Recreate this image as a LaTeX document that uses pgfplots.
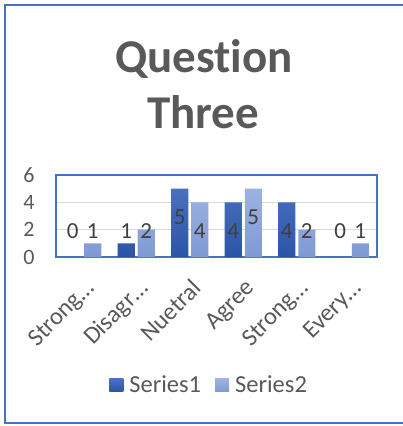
\documentclass[border=0pt]{standalone}
\usepackage{pgfplots}
\pgfplotsset{compat=1.18}
\usepackage{fontspec}
\setmainfont{Carlito}[Ligatures={NoCommon}]
\definecolor{txt}{HTML}{595959}
\definecolor{lbl}{HTML}{404040}
\definecolor{frameblue}{HTML}{4472C4}
\definecolor{sOneTop}{HTML}{4A70BF}
\definecolor{sOneBot}{HTML}{2C54A6}
\definecolor{sTwoTop}{HTML}{9DB2E1}
\definecolor{sTwoBot}{HTML}{7F9AD3}
\begin{document}
\begin{tikzpicture}
\useasboundingbox (0bp,0bp) rectangle (403bp,-426bp);
\draw[frameblue, line width=2bp] (404bp,-4.5bp) -- (4.5bp,-4.5bp) -- (4.5bp,-423bp) -- (404bp,-423bp);
\node[anchor=base, text=txt, font=\fontsize{47bp}{56bp}\selectfont\bfseries] at (204bp,-72bp) {Question};
\node[anchor=base, text=txt, font=\fontsize{47bp}{56bp}\selectfont\bfseries] at (203bp,-128bp) {Three};
\begin{axis}[
  at={(56bp,-257bp)}, anchor=south west,
  width=321bp, height=82bp, scale only axis,
  ybar, bar width=0.318,
  xmin=-0.5, xmax=5.5, ymin=0, ymax=6,
  xtick={0,1,2,3,4,5},
  xticklabels={Strong…,Disagr…,Nuetral,Agree,Strong…,Every…},
  ytick={0,2,4,6},
  major tick length=0pt,
  ymajorgrids,
  grid style={color=black!15, line width=1bp},
  axis line style={frameblue, line width=1.2bp},
  /pgf/number format/assume math mode=true,
  yticklabel style={text=txt, font=\fontsize{22bp}{26bp}\selectfont, xshift=-18bp},
  xticklabel style={text=txt, font=\fontsize{24.5bp}{28bp}\selectfont, xshift=1bp, yshift=-16bp, rotate=45, anchor=north east},
  legend style={at={(0.477,-1.56)}, anchor=center, draw=none, fill=none,
    legend columns=2, font=\fontsize{24.5bp}{28bp}\selectfont, text=txt,
    /tikz/every even column/.append style={column sep=12bp},
    /tikz/every odd column/.append style={column sep=4bp},
    legend cell align=left},
  legend image code/.code={\path[#1, draw=none] (0bp,-7bp) rectangle (14bp,6bp);},
  every node near coord/.append style={anchor=center, text=lbl, font=\fontsize{23bp}{27bp}\selectfont},
]
\addplot[bar shift=-0.187, draw=none, top color=sOneTop, bottom color=sOneBot]
  coordinates {(0,0) (1,1) (2,5) (3,4) (4,4) (5,0)};
\addlegendentry{Series1}
\addplot[bar shift=0.187, draw=none, top color=sTwoTop, bottom color=sTwoBot]
  coordinates {(0,1) (1,2) (2,4) (3,5) (4,2) (5,1)};
\addlegendentry{Series2}
\addplot[forget plot, bar shift=-0.187, draw=none, fill=none, nodes near coords, point meta=explicit]
  coordinates {(0,1.93) [0] (1,1.93) [1] (2,2.9) [5] (3,1.93) [4] (4,1.93) [4] (5,1.93) [0]};
\addplot[forget plot, bar shift=0.187, draw=none, fill=none, nodes near coords, point meta=explicit]
  coordinates {(0,1.93) [1] (1,1.93) [2] (2,1.93) [4] (3,2.9) [5] (4,1.93) [2] (5,1.93) [1]};
\end{axis}
\end{tikzpicture}
\end{document}
